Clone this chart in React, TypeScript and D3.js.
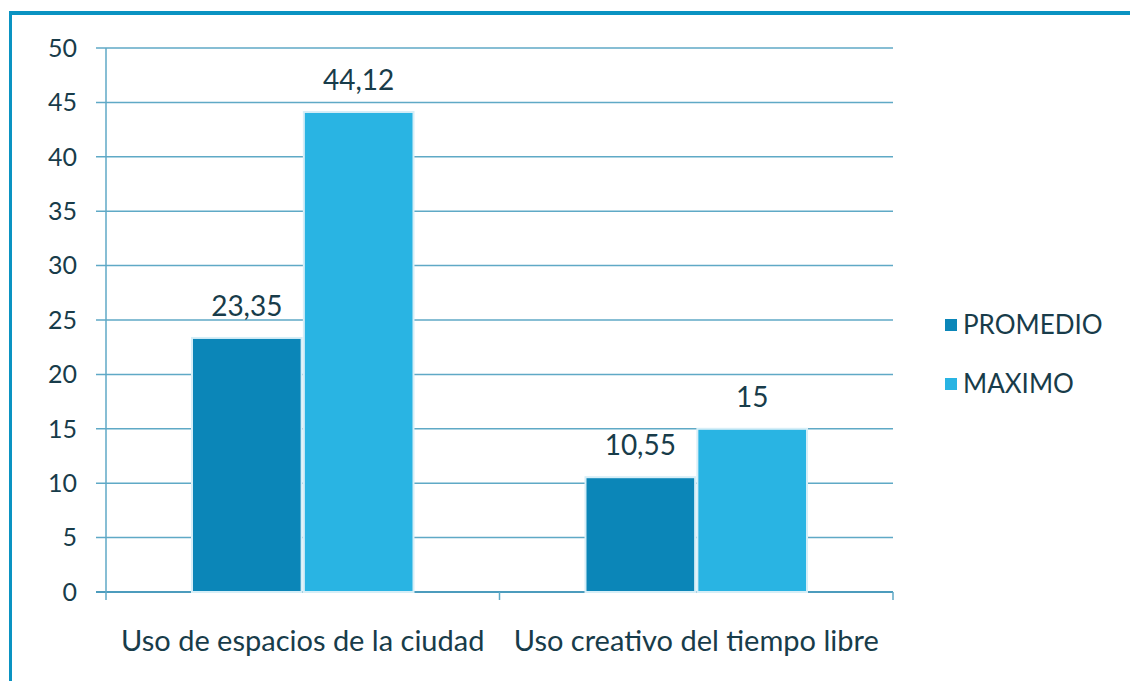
import React, { useMemo } from "react";
import * as d3 from "d3";

const WIDTH = 1130;
const HEIGHT = 681;
const MARGIN = { top: 48, right: 237, bottom: 89, left: 106 };

const categories = ["Uso de espacios de la ciudad", "Uso creativo del tiempo libre"];
const seriesNames = ["PROMEDIO", "MAXIMO"];
const promedio = [23.35, 10.55];
const maximo = [44.12, 15];
const valueLabels = [["23,35", "10,55"], ["44,12", "15"]];
const yTicks = [0, 5, 10, 15, 20, 25, 30, 35, 40, 45, 50];

const COLORS = ["#0b86b8", "#29b4e3"];
const GRID = "#5fa9c6";
const TEXT = "#183c4a";
const FONT = "Lato, 'Open Sans', sans-serif";

export default function App() {
  const boundsWidth = WIDTH - MARGIN.left - MARGIN.right;
  const boundsHeight = HEIGHT - MARGIN.top - MARGIN.bottom;

  const xScale = useMemo(
    () => d3.scaleBand().domain(categories).range([0, boundsWidth]).paddingInner(0).paddingOuter(0),
    [boundsWidth]
  );
  const yScale = useMemo(
    () => d3.scaleLinear().domain([0, 50]).range([boundsHeight, 0]),
    [boundsHeight]
  );

  const groupPad = 86;
  const inner = useMemo(
    () =>
      d3
        .scaleBand()
        .domain(seriesNames)
        .range([groupPad, xScale.bandwidth() - groupPad])
        .paddingInner(0.02),
    [xScale]
  );

  const series = [promedio, maximo];

  return (
    <svg
      width={WIDTH}
      height={HEIGHT}
      style={{ position: "absolute", left: 0, top: 0, background: "#fff" }}
      fontFamily={FONT}
    >
      {/* frame */}
      <rect x={9} y={11} width={WIDTH} height={4} fill="#0a93c2" />
      <rect x={9} y={11} width={3} height={HEIGHT} fill="#0a93c2" />

      <g transform={`translate(${MARGIN.left},${MARGIN.top})`}>
        {yTicks.map((t) => (
          <g key={t}>
            <line
              x1={-10}
              x2={boundsWidth}
              y1={yScale(t)}
              y2={yScale(t)}
              stroke={t === 0 ? "#4c9cbd" : GRID}
              strokeWidth={t === 0 ? 2 : 1.5}
            />
            <text
              x={-29}
              y={yScale(t)}
              dy="0.35em"
              textAnchor="end"
              fontSize={25}
              fill={TEXT}
            >
              {t}
            </text>
          </g>
        ))}
        <line x1={0} x2={0} y1={0} y2={boundsHeight + 8} stroke={GRID} strokeWidth={1.5} />
        {[1, 2].map((i) => (
          <line
            key={i}
            x1={xScale.step() * i}
            x2={xScale.step() * i}
            y1={boundsHeight}
            y2={boundsHeight + 8}
            stroke={GRID}
            strokeWidth={1.5}
          />
        ))}

        {categories.map((c, ci) => (
          <g key={c} transform={`translate(${xScale(c)},0)`}>
            {seriesNames.map((s, si) => {
              const v = series[si][ci];
              const x = inner(s)!;
              return (
                <g key={s}>
                  <rect
                    x={x}
                    y={yScale(v)}
                    width={inner.bandwidth()}
                    height={boundsHeight - yScale(v)}
                    fill={COLORS[si]}
                    stroke="#d6eef7"
                    strokeWidth={2}
                  />
                  <text
                    x={x + inner.bandwidth() / 2}
                    y={yScale(v) - 22}
                    textAnchor="middle"
                    fontSize={28}
                    fill={TEXT}
                  >
                    {valueLabels[si][ci]}
                  </text>
                </g>
              );
            })}
            <text
              x={xScale.bandwidth() / 2}
              y={boundsHeight + 59}
              textAnchor="middle"
              fontSize={29}
              fill={TEXT}
            >
              {c}
            </text>
          </g>
        ))}
      </g>

      {/* legend */}
      {seriesNames.map((s, i) => (
        <g key={s} transform={`translate(945,${325 + i * 59})`}>
          <rect x={0} y={-6} width={12} height={12} fill={COLORS[i]} />
          <text x={18} y={0} dy="0.35em" fontSize={26} fill={TEXT}>
            {s}
          </text>
        </g>
      ))}
    </svg>
  );
}
